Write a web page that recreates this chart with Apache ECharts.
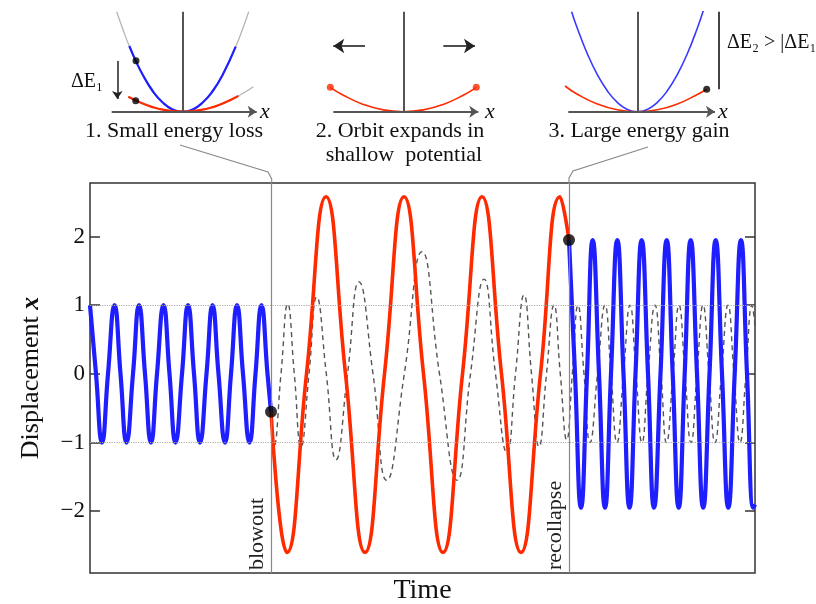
<!DOCTYPE html>
<html><head><meta charset="utf-8">
<script src="https://cdn.jsdelivr.net/npm/echarts/dist/echarts.min.js"></script>
<style>html,body{margin:0;padding:0;background:#fff;overflow:hidden}#c{width:816px;height:604px}</style>
</head><body><div id="c"></div>
<script>
// ---------- main panel: time (arbitrary units) vs displacement x ----------
const yTicks = [-2, -1, 0, 1, 2];
const refLevels = [1, -1];
const blowoutT = 181;
const recollapseT = 479;
const blueBefore = [[0,1],[6,0],[12,-1],[18,0],[24.5,1],[30.5,0],[36.5,-1],[43,0],[49,1],[55,0],[61,-1],[67,0],[73.5,1],[79.5,0],[85.5,-1],[92,0],[98,1],[104,0],[110,-1],[116.5,0],[122.5,1],[128.5,0],[135,-1],[141,0],[147,1],[153,0],[159.5,-1],[165.5,0],[171.5,1],[177.5,0],[181,-0.55]];
const redExpanded = [[181,-0.55],[197,-2.6],[216.5,0],[236,2.58],[255.5,0],[275,-2.6],[294.5,0],[314,2.58],[333.5,0],[353,-2.6],[372.5,0],[392,2.58],[411.5,0],[431,-2.6],[450.5,0],[470,2.58],[479,1.95]];
const blueAfter = [[479,1.95],[485,0],[491,-1.95],[497,0],[502.7,1.95],[509,0],[515,-1.95],[521,0],[527.3,1.95],[533.5,0],[539.5,-1.95],[545.5,0],[551.7,1.95],[558,0],[564,-1.95],[570.5,0],[576.7,1.95],[582.7,0],[588.7,-1.95],[594.7,0],[600.7,1.95],[607,0],[613.2,-1.95],[619.5,0],[625.7,1.95],[632,0],[638.3,-1.95],[644.7,0],[651,1.95],[657,0],[663.3,-1.95],[665,-1.9]];
const dashedRef = [[181,-0.55],[184,-1.05],[191,0],[197.7,1.02],[204.3,0],[211,-1.06],[219,0],[226.7,1.12],[236.3,0],[246,-1.25],[257.5,0],[269,1.34],[283,0],[296.7,-1.55],[314.3,0],[332,1.78],[349.5,0],[367,-1.55],[380.5,0],[394,1.38],[405.5,0],[417,-1.15],[425.5,0],[434,1.15],[441.5,0],[449,-1.06],[456.5,0],[464,1.0],[470.3,0],[476.7,-0.96],[482.3,0],[488,1.0],[494,0],[500,-1.0],[507.5,0],[515,1.0],[521,0],[527,-1.0],[533.5,0],[540,1.0],[546,0],[552,-1.0],[558,0],[565,1.0],[571,0],[576.5,-1.0],[583,0],[589,1.0],[595,0],[601,-1.0],[607,0],[613,1.0],[619,0],[625,-1.0],[631.5,0],[638,1.0],[644,0],[650,-1.0],[656,0],[662,1.0],[665,0.7]];
const transitionPoints = [[181,-0.55],[479,1.95]];
const eventLabels = ['blowout', 'recollapse'];

// ---------- insets: position p vs energy E ----------
const inset1GuideBlue = [[-6.6,10],[-6,8.3],[-5.34,6.57],[-4,3.7],[-2,0.92],[0,0],[2,0.92],[4,3.7],[5.3,6.5],[6,8.3],[6.6,10]];
const inset1Blue = [[-5.34,6.57],[-4.67,5.03],[-4,3.7],[-3,2.07],[-2,0.92],[-1,0.23],[0,0],[1,0.23],[2,0.92],[3,2.07],[4,3.7],[5.3,6.5]];
const inset1GuideRed = [[-5.44,1.5],[-4,0.81],[-2,0.2],[0,0],[2,0.2],[4,0.81],[5.56,1.57],[6.3,2.0],[7.06,2.5]];
const inset1Red = [[-5.44,1.5],[-4,0.81],[-3,0.46],[-2,0.2],[-1,0.05],[0,0],[1,0.05],[2,0.2],[3,0.46],[4,0.81],[5.56,1.57]];
const inset1Dots = [[-4.67,5.1],[-4.7,1.1]];
const inset1DeltaArrow = [[-6.54,5.07],[-6.54,1.27]];
const inset1AxisP = [-7.1, 7.4];

const inset2Red = [[-7.3,2.44],[-6,1.65],[-4,0.73],[-2,0.18],[0,0],[2,0.18],[4,0.73],[6,1.65],[7.3,2.44]];
const inset2Dots = [[-7.3,2.44],[7.3,2.44]];
const inset2Arrows = [[[-3.83,6.57],[-7.0,6.57]], [[4.0,6.57],[7.17,6.57]]];
const inset2AxisP = [-7.0, 7.5];

const inset3Blue = [[-6.57,10],[-6,8.35],[-5,5.8],[-4,3.71],[-3,2.09],[-2,0.93],[-1,0.23],[0,0],[1,0.23],[2,0.93],[3,2.09],[4,3.71],[5,5.8],[6,8.35],[6.6,10.1]];
const inset3Red = [[-7.23,2.57],[-6,1.75],[-4,0.77],[-2,0.19],[0,0],[2,0.19],[4,0.77],[6,1.72],[6.94,2.24]];
const inset3Dot = [[6.94,2.24]];
const inset3Bar = [[8.1,2.24],[8.1,10]];
const inset3AxisP = [-6.9, 7.77];

const captions = ['1. Small energy loss', '2. Orbit expands in', 'shallow  potential', '3. Large energy gain'];

const SERIF = '"Liberation Serif", "DejaVu Serif", serif';
const BLUE = '#1e1eff', RED = '#ff2a00';

function insetAxes(axisP) {
  return {
    silent: true, symbol: ['none','arrow'], symbolSize: 9, animation: false,
    label: {show: false},
    lineStyle: {color: '#555', width: 2, type: 'solid'},
    data: [
      [{coord: [axisP[0], 0]}, {coord: [axisP[1], 0]}],
      [{coord: [0, 0], symbol: 'none'}, {coord: [0, 10], symbol: 'none'}]
    ]
  };
}
// inset k uses xAxisIndex k and yAxisIndex k+1 (main grid has two y axes)
function lineS(data, k, color, width, extra) {
  return Object.assign({type: 'line', data, xAxisIndex: k, yAxisIndex: k + 1, smooth: 0.5,
    showSymbol: false, symbol: 'none', silent: true,
    lineStyle: {color, width}}, extra || {});
}

const chart = echarts.init(document.getElementById('c'), null, {renderer: 'canvas'});
const hiddenX = (min, max, gi) => ({type: 'value', gridIndex: gi, min, max, show: false});
const hiddenY = (min, max, gi) => ({type: 'value', gridIndex: gi, min, max, show: false});
const G = {containLabel: false, outerBoundsMode: 'none'};

const option = {
  animation: false,
  backgroundColor: '#fff',
  grid: [
    Object.assign({left: 90, top: 183, width: 665, height: 390, show: true, borderColor: '#333', borderWidth: 1.5, backgroundColor: 'transparent'}, G),
    Object.assign({left: 102.7, top: 11.7, width: 160, height: 100}, G),
    Object.assign({left: 323.3, top: 11.7, width: 160, height: 100}, G),
    Object.assign({left: 557.3, top: 11.7, width: 170, height: 100}, G)
  ],
  xAxis: [
    {type: 'value', gridIndex: 0, min: 0, max: 665, name: 'Time', nameLocation: 'middle', nameGap: 4,
      nameTextStyle: {fontFamily: SERIF, fontSize: 28, color: '#111', verticalAlign: 'top'},
      axisLine: {show: false}, axisTick: {show: false}, axisLabel: {show: false}, splitLine: {show: false}},
    hiddenX(-8, 8, 1), hiddenX(-8, 8, 2), hiddenX(-8, 9, 3)
  ],
  yAxis: [
    {type: 'value', gridIndex: 0, min: -2.9, max: 2.78, position: 'left',
      name: '{a|Displacement }{b|x}', nameLocation: 'middle', nameGap: 46, nameRotate: 90,
      nameTextStyle: {rich: {a: {fontFamily: SERIF, fontSize: 26, color: '#111'}, b: {fontFamily: SERIF, fontSize: 26, fontStyle: 'italic', fontWeight: 'bold', color: '#111'}}},
      axisLine: {show: false},
      axisTick: {show: true, inside: true, length: 10, lineStyle: {color: '#333', width: 1.5}, customValues: yTicks},
      axisLabel: {show: true, margin: 5, fontFamily: SERIF, fontSize: 23, color: '#111', customValues: yTicks,
        formatter: v => (v < 0 ? '\u2212' + (-v) : String(v))},
      splitLine: {show: false}},
    {type: 'value', gridIndex: 0, min: -2.9, max: 2.78, position: 'right',
      axisLine: {show: false},
      axisTick: {show: true, inside: true, length: 10, lineStyle: {color: '#333', width: 1.5}, customValues: yTicks},
      axisLabel: {show: false}, splitLine: {show: false}},
    hiddenY(0, 10, 1), hiddenY(0, 10, 2), hiddenY(0, 10, 3)
  ],
  series: [
    // main panel
    {type: 'line', data: dashedRef, xAxisIndex: 0, yAxisIndex: 0, smooth: 0.5, showSymbol: false, symbol: 'none', silent: true,
      lineStyle: {color: '#555', width: 1.4, type: [5, 4]}, z: 2,
      markLine: {silent: true, symbol: 'none', animation: false,
        lineStyle: {color: '#aaa', width: 1.2, type: 'dotted'}, label: {show: false},
        data: refLevels.map(v => ({yAxis: v}))}},
    {type: 'line', data: transitionPoints, xAxisIndex: 0, yAxisIndex: 0, silent: true, z: 1, symbol: 'none',
      lineStyle: {width: 0, opacity: 0},
      markLine: {silent: true, symbol: 'none', animation: false,
        lineStyle: {color: '#888', width: 1.2, type: 'solid'},
        label: {show: true, position: 'insideStartTop', distance: 3, fontFamily: SERIF, fontSize: 22, color: '#222', formatter: p => p.name},
        data: [{xAxis: blowoutT, name: eventLabels[0]}, {xAxis: recollapseT, name: eventLabels[1]}]}},
    {type: 'line', data: blueBefore, xAxisIndex: 0, yAxisIndex: 0, smooth: 0.5, showSymbol: false, symbol: 'none', silent: true,
      lineStyle: {color: BLUE, width: 4.2}, z: 3},
    {type: 'line', data: redExpanded, xAxisIndex: 0, yAxisIndex: 0, smooth: 0.5, showSymbol: false, symbol: 'none', silent: true,
      lineStyle: {color: RED, width: 3.6}, z: 3},
    {type: 'line', data: blueAfter, xAxisIndex: 0, yAxisIndex: 0, smooth: 0.5, showSymbol: false, symbol: 'none', silent: true,
      lineStyle: {color: BLUE, width: 4.2}, z: 3},
    {type: 'scatter', data: transitionPoints, xAxisIndex: 0, yAxisIndex: 0, symbolSize: 12, silent: true,
      itemStyle: {color: '#000'}, z: 5},

    // inset 1
    lineS(inset1GuideBlue, 1, '#b5b5b5', 1.3, {markLine: insetAxes(inset1AxisP)}),
    lineS(inset1GuideRed, 1, '#b5b5b5', 1.3),
    lineS(inset1Blue, 1, BLUE, 2.2),
    lineS(inset1Red, 1, RED, 2.2, {markLine: {silent: true, symbol: ['none','arrow'], symbolSize: 8,
      lineStyle: {color: '#222', width: 1.5, type: 'solid'}, label: {show: false},
      data: [[{coord: inset1DeltaArrow[0]}, {coord: inset1DeltaArrow[1]}]]}}),
    {type: 'scatter', data: inset1Dots, xAxisIndex: 1, yAxisIndex: 2, symbolSize: 7, silent: true, itemStyle: {color: '#000'}, z: 5},

    // inset 2
    lineS(inset2Red, 2, RED, 1.6, {markLine: insetAxes(inset2AxisP)}),
    lineS([], 2, '#222', 0, {markLine: {silent: true, symbol: ['none','arrow'], symbolSize: 11,
        lineStyle: {color: '#222', width: 1.6, type: 'solid'}, label: {show: false},
        data: inset2Arrows.map(a => [{coord: a[0]}, {coord: a[1]}])}}),
    {type: 'scatter', data: inset2Dots, xAxisIndex: 2, yAxisIndex: 3, symbolSize: 7, silent: true, itemStyle: {color: RED}, z: 5},

    // inset 3
    lineS(inset3Blue, 3, '#3a3aff', 1.6, {markLine: insetAxes(inset3AxisP)}),
    lineS(inset3Red, 3, RED, 1.6, {markLine: {silent: true, symbol: 'none',
      lineStyle: {color: '#444', width: 2, type: 'solid'}, label: {show: false},
      data: [[{coord: inset3Bar[0]}, {coord: inset3Bar[1]}]]}}),
    {type: 'scatter', data: inset3Dot, xAxisIndex: 3, yAxisIndex: 4, symbolSize: 7, silent: true, itemStyle: {color: '#000'}, z: 5}
  ],
  graphic: [
    {type: 'polyline', shape: {points: [[180,145],[268,172],[271.7,179],[271.7,184]]}, style: {stroke: '#888', lineWidth: 1.1, fill: null}, silent: true},
    {type: 'polyline', shape: {points: [[648,147],[573,171],[569,178],[569,184]]}, style: {stroke: '#888', lineWidth: 1.1, fill: null}, silent: true},
    {type: 'text', x: 174, y: 131.7, style: {text: captions[0], font: '22px ' + SERIF, fill: '#111', align: 'center', verticalAlign: 'middle'}},
    {type: 'text', x: 400, y: 131.7, style: {text: captions[1], font: '22px ' + SERIF, fill: '#111', align: 'center', verticalAlign: 'middle'}},
    {type: 'text', x: 404, y: 155, style: {text: captions[2], font: '22px ' + SERIF, fill: '#111', align: 'center', verticalAlign: 'middle'}},
    {type: 'text', x: 639, y: 131.7, style: {text: captions[3], font: '22px ' + SERIF, fill: '#111', align: 'center', verticalAlign: 'middle'}},
    {type: 'text', x: 265, y: 112, style: {text: 'x', font: 'italic 22px ' + SERIF, fill: '#111', align: 'center', verticalAlign: 'middle'}},
    {type: 'text', x: 490, y: 112, style: {text: 'x', font: 'italic 22px ' + SERIF, fill: '#111', align: 'center', verticalAlign: 'middle'}},
    {type: 'text', x: 723, y: 112, style: {text: 'x', font: 'italic 22px ' + SERIF, fill: '#111', align: 'center', verticalAlign: 'middle'}},
    {type: 'text', x: 71, y: 82, style: {text: '\u0394E\u2081', font: '20px ' + SERIF, fill: '#111', align: 'left', verticalAlign: 'middle'}},
    {type: 'text', x: 727, y: 43, style: {text: '\u0394E\u2082 > |\u0394E\u2081|', font: '20px ' + SERIF, fill: '#111', align: 'left', verticalAlign: 'middle'}}
  ]
};
chart.setOption(option);
</script>
</body></html>
